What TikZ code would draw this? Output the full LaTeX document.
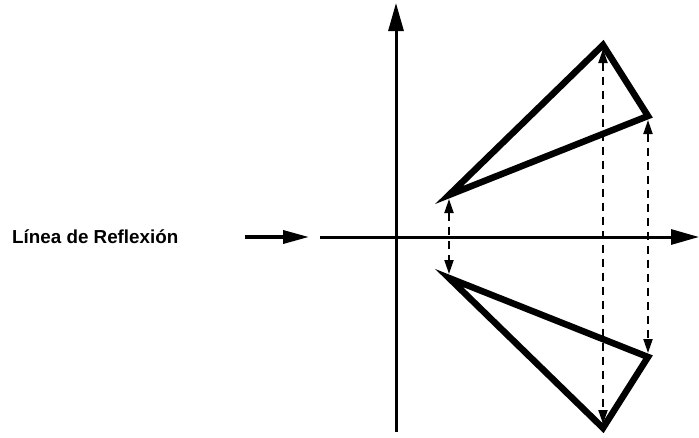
\documentclass[tikz,border=0pt]{standalone}
\usepackage{fontspec}
\setmainfont{Liberation Sans}
\usetikzlibrary{arrows.meta}
\begin{document}
\begin{tikzpicture}[x=1pt,y=-1pt,
  axis/.style={line width=3pt,-{Triangle[length=28pt,width=15pt]}},
  pointer/.style={line width=3.5pt,-{Triangle[length=26pt,width=13pt]}},
  tri/.style={line width=6.5pt,line join=miter},
  mirror/.style={line width=2pt,dash pattern=on 8pt off 6pt,{Triangle[length=14pt,width=9pt]}-{Triangle[length=14pt,width=9pt]}}]
\useasboundingbox (0,0) rectangle (699,437);
% label and pointer
\node[font=\bfseries\fontsize{18.8}{22}\selectfont,anchor=west,inner sep=0pt] (lbl) at (12,237) {Línea de Reflexión};
\coordinate (p0) at (245,237);
\coordinate (p1) at (309,237);
\draw[pointer] (p0) -- (p1);
% axes
\coordinate (h0) at (320,237);
\coordinate (h1) at (699,237);
\coordinate (v0) at (396,432);
\coordinate (v1) at (396,3);
\draw[axis] (h0) -- (h1);
\draw[axis] (v0) -- (v1);
% triangles
\coordinate (a1) at (449,195);
\coordinate (b1) at (603,45);
\coordinate (c1) at (648,116);
\coordinate (a2) at (449,278);
\coordinate (b2) at (603,428);
\coordinate (c2) at (648,357);
\draw[tri] (a1) -- (b1) -- (c1) -- cycle;
\draw[tri] (a2) -- (b2) -- (c2) -- cycle;
% reflection links
\draw[mirror,shorten <=4pt,shorten >=4pt] (a1) -- (a2);
\draw[mirror,shorten <=4pt,shorten >=4pt] (b1) -- (b2);
\draw[mirror,shorten <=4pt,shorten >=4pt] (c1) -- (c2);
\end{tikzpicture}
\end{document}
